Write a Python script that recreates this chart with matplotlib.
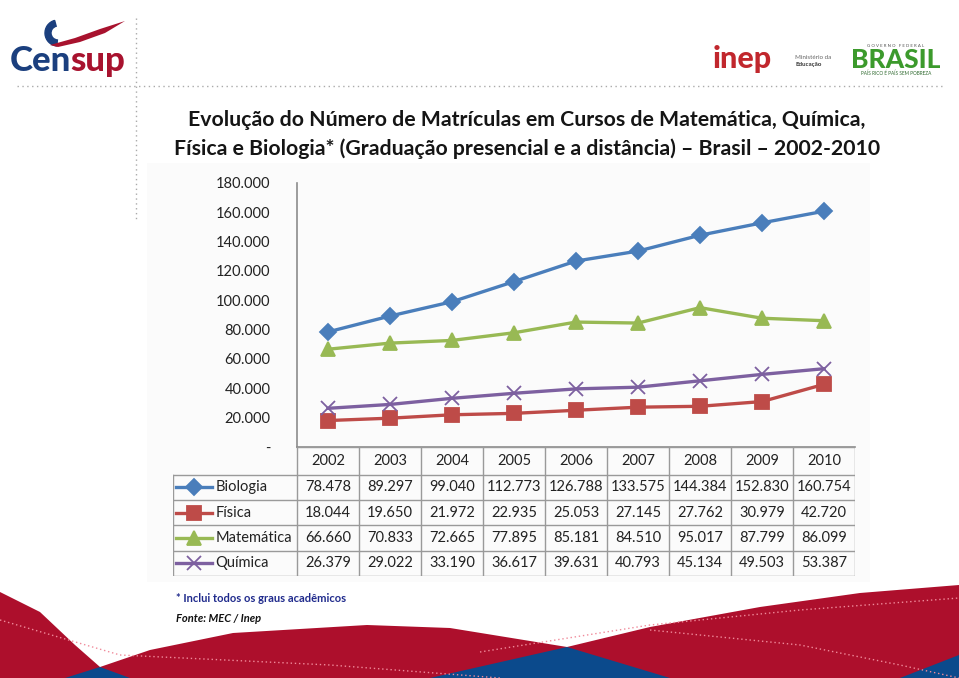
import numpy as np
import matplotlib.pyplot as plt
from matplotlib.patches import Rectangle, Polygon, Wedge

plt.rcParams['font.family'] = ['Lato', 'DejaVu Sans']

# dados
anos = ['2002', '2003', '2004', '2005', '2006', '2007', '2008', '2009', '2010']
biologia = [78478, 89297, 99040, 112773, 126788, 133575, 144384, 152830, 160754]
fisica = [18044, 19650, 21972, 22935, 25053, 27145, 27762, 30979, 42720]
matematica = [66660, 70833, 72665, 77895, 85181, 84510, 95017, 87799, 86099]
quimica = [26379, 29022, 33190, 36617, 39631, 40793, 45134, 49503, 53387]

nomes = ['Biologia', 'Física', 'Matemática', 'Química']
series = [biologia, fisica, matematica, quimica]
cores = ['#4a7ebb', '#be4b48', '#98b954', '#7d60a0']
marcadores = ['D', 's', '^', 'x']
tamanhos = [8.5, 9.5, 10.5, 10.5]

yticks = [0, 20000, 40000, 60000, 80000, 100000, 120000, 140000, 160000, 180000]


def fmt(v):
    return '-' if v == 0 else '{:,}'.format(v).replace(',', '.')


W, H = 959, 678
fig = plt.figure(figsize=(W / 100, H / 100), dpi=100)


def box(x0, y0, x1, y1):
    # pixel box (y from top) -> figure fraction
    return [x0 / W, 1 - y1 / H, (x1 - x0) / W, (y1 - y0) / H]


#################################################################
# decoracao do slide

deco = fig.add_axes([0, 0, 1, 1], zorder=-1)
deco.set_xlim(0, W)
deco.set_ylim(H, 0)
deco.axis('off')

deco.add_patch(Rectangle((147, 163), 723, 419, color='#fbfbfb', lw=0))

deco.plot([17, 945], [86, 86], ls=(0, (1, 2.5)), color='#aaaaaa', lw=1)
deco.plot([136, 136], [18, 222], ls=(0, (1, 2.5)), color='#aaaaaa', lw=1)

# Censup
deco.add_patch(Wedge((58, 33), 13, 95, 255, width=6, color='#1b3f7e'))
deco.add_patch(Polygon([(50, 45), (75, 38), (100, 29), (125, 21), (105, 33),
                        (80, 42), (58, 47)], color='#a8122e', lw=0))
deco.text(10, 71, 'Cen', color='#1b3f7e', fontsize=25, fontweight='black',
          va='baseline')
deco.text(70, 71, 'sup', color='#a8122e', fontsize=25, fontweight='black',
          va='baseline')

# Inep / MEC / Brasil
deco.text(713, 68, 'inep', color='#c1272d', fontsize=22, fontweight='black',
          va='baseline')
deco.text(795, 59, 'Ministério da', color='#666666', fontsize=4.5, va='baseline')
deco.text(795, 66, 'Educação', color='#333333', fontsize=4.5,
          fontweight='bold', va='baseline')
deco.text(896, 46, 'G O V E R N O   F E D E R A L', color='#555555',
          fontsize=3.2, ha='center', va='center')
deco.text(896, 60, 'BRASIL', color='#3c9a2c', fontsize=19, fontweight='black',
          ha='center', va='center')
deco.text(896, 73, 'PAÍS RICO É PAÍS SEM POBREZA', color='#2f6a2f',
          fontsize=3.4, ha='center', va='center')

# titulo
deco.text(527, 120, 'Evolução do Número de Matrículas em Cursos de Matemática, Química,',
          fontsize=15.3, fontweight='bold', color='#151515', ha='center',
          va='center')
deco.text(527, 149, 'Física e Biologia* (Graduação presencial e a distância) – Brasil – 2002-2010',
          fontsize=15.3, fontweight='bold', color='#151515', ha='center',
          va='center')

# notas
deco.text(176, 598, '* Inclui todos os graus acadêmicos', fontsize=8,
          fontweight='bold', color='#1f2a8c', va='center')
deco.text(176, 618, 'Fonte: MEC / Inep', fontsize=8, fontweight='bold',
          fontstyle='italic', color='#111111', va='center')

# faixa vermelha no rodape
deco.add_patch(Polygon([(0, 592), (40, 612), (75, 645), (100, 667), (150, 650),
                        (233, 633), (367, 625), (450, 628), (567, 647),
                        (650, 627), (760, 607), (860, 593), (959, 585),
                        (959, 678), (0, 678)], color='#ad0f2c', lw=0))
deco.add_patch(Polygon([(100, 667), (130, 678), (65, 678)], color='#0b4a8c', lw=0))
deco.add_patch(Polygon([(567, 647), (670, 678), (430, 678)], color='#0b4a8c', lw=0))
deco.add_patch(Polygon([(959, 655), (959, 678), (900, 678)], color='#0b4a8c', lw=0))
deco.plot([0, 120, 330, 500], [620, 655, 665, 678], ls=(0, (1, 2)),
          color='#f08a9a', lw=1)
deco.plot([480, 650, 800, 959], [652, 625, 610, 598], ls=(0, (1, 2)),
          color='#f08a9a', lw=1)
deco.plot([650, 800, 900, 959], [630, 645, 665, 678], ls=(0, (1, 2)),
          color='#f08a9a', lw=1)

#################################################################
# grafico

ax = fig.add_axes(box(297, 183, 855, 447))
ax.patch.set_visible(False)
x = np.arange(len(anos))
for nome, vals, cor, mk, ms in zip(nomes, series, cores, marcadores, tamanhos):
    ax.plot(x, vals, color=cor, lw=2.4, marker=mk, ms=ms, mew=1.3,
            mec=cor, mfc=cor, label=nome, clip_on=False)

ax.set_xlim(-0.5, len(anos) - 0.5)
ax.set_ylim(0, 180000)
ax.set_yticks(yticks)
ax.set_yticklabels([fmt(v) for v in yticks])
ax.set_xticks([])
ax.tick_params(axis='y', length=0, pad=19, labelsize=10.5, labelcolor='#222222')
for s in ['top', 'right']:
    ax.spines[s].set_visible(False)
for s in ['left', 'bottom']:
    ax.spines[s].set_color('#8c8c8c')
    ax.spines[s].set_linewidth(1.2)

#################################################################
# tabela de dados

tab = fig.add_axes(box(173, 447, 855, 576))
tab.patch.set_visible(False)
tab.set_xlim(-2.5, len(anos) - 0.5)
tab.set_ylim(129, 0)
tab.axis('off')

gc = '#9a9a9a'
hh = 27.5
rh = (129 - hh) / len(nomes)
for i in range(len(anos) + 1):
    tab.plot([i - 0.5, i - 0.5], [0, 129], color=gc, lw=1)
tab.plot([-2.5, -2.5], [hh, 129], color=gc, lw=1)
tab.plot([-0.5, len(anos) - 0.5], [0, 0], color=gc, lw=1)
for k in range(len(nomes) + 1):
    tab.plot([-2.5, len(anos) - 0.5], [hh + k * rh] * 2, color=gc, lw=1)

for i, a in enumerate(anos):
    tab.text(i, hh / 2 + 0.5, a, ha='center', va='center', fontsize=10.5,
             color='#222222')

for k, (nome, vals, cor, mk, ms) in enumerate(zip(nomes, series, cores,
                                                  marcadores, tamanhos)):
    yc = hh + (k + 0.5) * rh
    tab.plot([-2.45, -1.87], [yc, yc], color=cor, lw=2.4)
    tab.plot([-2.16], [yc], color=cor, marker=mk, ms=ms, mew=1.3)
    tab.text(-1.82, yc, nome, ha='left', va='center', fontsize=10.5,
             color='#222222')
    for i, v in enumerate(vals):
        tab.text(i, yc, fmt(v), ha='center', va='center', fontsize=10.5,
                 color='#222222')

plt.savefig('out.png', dpi=100)
